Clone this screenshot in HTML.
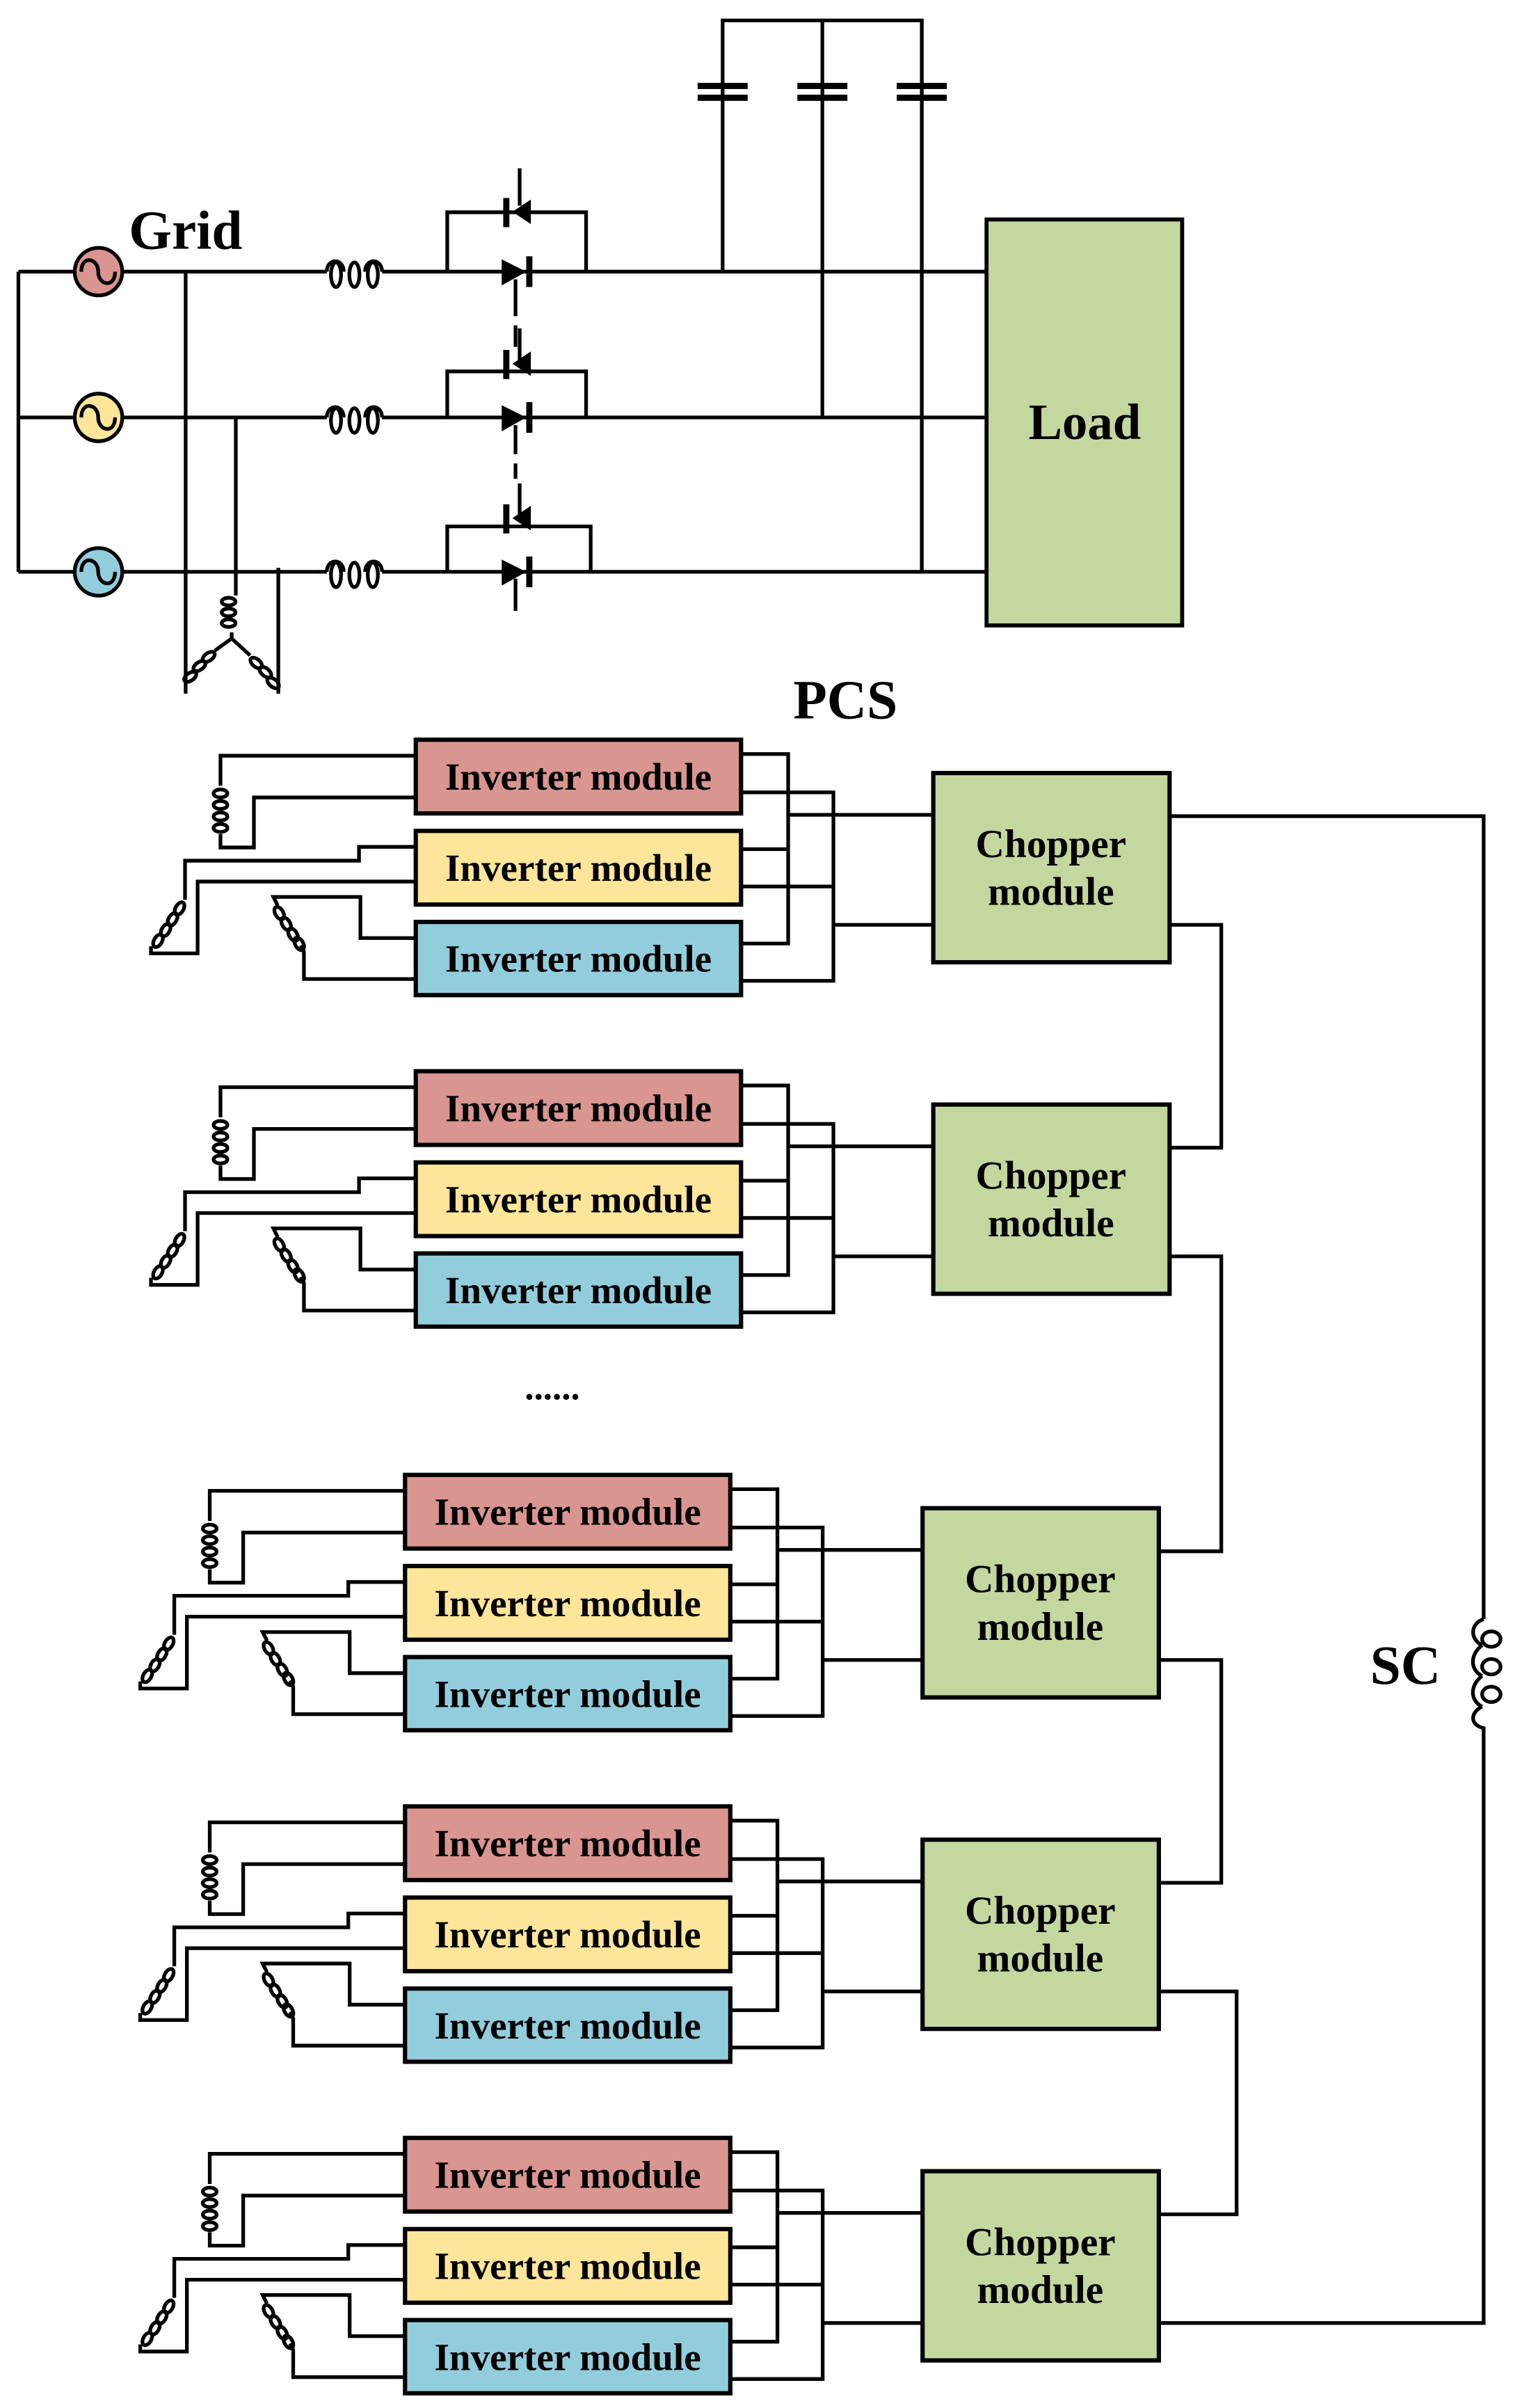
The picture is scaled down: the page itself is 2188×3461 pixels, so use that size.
<!DOCTYPE html>
<html><head><meta charset="utf-8"><style>
html,body{margin:0;padding:0;background:#fff}
svg{display:block}
text{font-family:"Liberation Serif",serif;font-weight:bold;fill:#000}
</style></head><body>
<svg width="2188" height="3461" viewBox="0 0 992 1569" preserveAspectRatio="none" xmlns="http://www.w3.org/2000/svg">
<g fill="none" stroke="#000" stroke-width="2.4">
<path d="M12,177 V372.6 M12,177 H48 M12,272 H48 M12,372.6 H48"/>
<path d="M80,177 H204 M80,272 H204 M80,372.6 H204"/>
<path d="M121,177 V452 M153.7,272 V384 M181.4,370 V452"/>
<g><path d="M204,177 H213 M249,177 H291"/><path d="M213,177 C213,168 224,168 224,177 M249,177 C249,168 238,168 238,177"/><ellipse cx="219" cy="179" rx="3.3" ry="8"/><ellipse cx="231" cy="179" rx="3.3" ry="8"/><ellipse cx="243" cy="179" rx="3.3" ry="8"/></g>
<g transform="translate(0,95)"><path d="M204,177 H213 M249,177 H291"/><path d="M213,177 C213,168 224,168 224,177 M249,177 C249,168 238,168 238,177"/><ellipse cx="219" cy="179" rx="3.3" ry="8"/><ellipse cx="231" cy="179" rx="3.3" ry="8"/><ellipse cx="243" cy="179" rx="3.3" ry="8"/></g>
<g transform="translate(0,195.6)"><path d="M204,177 H213 M249,177 H291"/><path d="M213,177 C213,168 224,168 224,177 M249,177 C249,168 238,168 238,177"/><ellipse cx="219" cy="179" rx="3.3" ry="8"/><ellipse cx="231" cy="179" rx="3.3" ry="8"/><ellipse cx="243" cy="179" rx="3.3" ry="8"/></g>
<path d="M291.5,177 V138.3 H382 V177 M291.5,272 V242 H382 V272 M291.5,372.6 V343 H385 V372.6"/>
<path d="M291,177 H643 M291,272 H643 M291,372.6 H643"/>
<path d="M471,177 V55 M471,63 V13.3 H600.8 V372.6 M536,13.3 V272"/>
<path d="M338.7,109.7 V134 M336,182 V206 M336,212 V226"/>
<path d="M338.7,214 V238 M336,277 V296 M336,302 V312"/>
<path d="M338.7,315 V339 M336,377 V398"/>
<path d="M153.7,384 V388 M151,412 V416 L140,424 M151,416 L163,427"/>
<ellipse cx="149" cy="392" rx="4.5" ry="2.5"/><ellipse cx="149" cy="399" rx="4.5" ry="2.5"/><ellipse cx="149" cy="406" rx="4.5" ry="2.5"/>
<ellipse cx="136" cy="428" rx="4.5" ry="2.5" transform="rotate(-35 136 428)"/><ellipse cx="130" cy="434" rx="4.5" ry="2.5" transform="rotate(-35 130 434)"/><ellipse cx="124" cy="441" rx="4.5" ry="2.5" transform="rotate(-35 124 441)"/>
<ellipse cx="167" cy="432" rx="4.5" ry="2.5" transform="rotate(40 167 432)"/><ellipse cx="173" cy="438" rx="4.5" ry="2.5" transform="rotate(40 173 438)"/><ellipse cx="178" cy="445" rx="4.5" ry="2.5" transform="rotate(40 178 445)"/>
<!-- right side chopper connections -->
<path d="M762.3,531.8 H967 V1513.6 H755.3"/>
<path d="M762.3,602.6 H796 V747.8 H762.3"/>
<path d="M762.3,818.6 H796 V1010.8 H755.3"/>
<path d="M755.3,1081.6 H796 V1226.8 H755.3"/>
<path d="M755.3,1297.6 H806 V1442.8 H755.3"/>
</g>
<!-- SC coil -->
<rect x="962" y="1055" width="10" height="70" fill="#fff"/>
<g fill="none" stroke="#000" stroke-width="2.4">
<path d="M967,1055 C958,1058 958,1068 966,1072 M966,1072 C958,1078 958,1088 966,1092 M966,1092 C958,1098 958,1108 966,1112 M966,1112 C958,1116 958,1124 967,1126"/>
<ellipse cx="972" cy="1068" rx="6" ry="5"/><ellipse cx="972" cy="1086" rx="6" ry="5"/><ellipse cx="972" cy="1104" rx="6" ry="5"/>
</g>
<text x="893" y="1097" font-size="36">SC</text>
<g fill="#000">
<rect x="454.7" y="54" width="32.6" height="4"/><rect x="454.7" y="61.7" width="32.6" height="4"/>
<rect x="519.7" y="54" width="32.6" height="4"/><rect x="519.7" y="61.7" width="32.6" height="4"/>
<rect x="584.5" y="54" width="32.6" height="4"/><rect x="584.5" y="61.7" width="32.6" height="4"/>
<g><polygon points="327,169 327,186 343,177"/><rect x="343" y="167" width="4" height="20"/><polygon points="346,130 346,146 334,138"/><rect x="328" y="129" width="4" height="19"/></g>
<g transform="translate(0,95)"><polygon points="327,169 327,186 343,177"/><rect x="343" y="167" width="4" height="20"/><polygon points="346,134 346,150 334,142"/><rect x="328" y="133" width="4" height="19"/></g>
<g transform="translate(0,195.6)"><polygon points="327,169 327,186 343,177"/><rect x="343" y="167" width="4" height="20"/><polygon points="346,134 346,150 334,142"/><rect x="328" y="133" width="4" height="19"/></g>
</g>
<g stroke="#000" stroke-width="2.4">
<circle cx="64.2" cy="177" r="15.5" fill="#d9958f"/>
<circle cx="64.2" cy="272" r="15.5" fill="#fde59a"/>
<circle cx="64.2" cy="372.6" r="15.5" fill="#92cddc"/>
<path fill="none" d="M53,177 C53,166 64,168 64,177 C64,186 75,188 75,177 M53,272 C53,261 64,263 64,272 C64,281 75,283 75,272 M53,372.6 C53,361.6 64,363.6 64,372.6 C64,381.6 75,383.6 75,372.6"/>
</g>
<rect x="643" y="143" width="127.5" height="264.5" fill="#c4d79f" stroke="#000" stroke-width="2.6"/>
<text x="707" y="286" font-size="33" text-anchor="middle">Load</text>
<text x="84" y="162" font-size="36">Grid</text>
<text x="517" y="468" font-size="36">PCS</text>
<text x="360" y="912" font-size="24" text-anchor="middle">......</text>

<g transform="translate(0,0)">
<g fill="none" stroke="#000" stroke-width="2.4">
<path d="M271,492.4 H143.7 V512 M143.7,543.5 V552.2 H165.5 V519.6 H271"/>
<path d="M271,551.8 H234 V560.8 H120.6 V586.2 M98.4,616.6 V621.2 H128.8 V574.4 H271"/>
<path d="M271,611.2 H234.9 V584.4 H178.2 L181,590 M196,616 L198.1,620.2 V637.9 H271"/>
<path d="M483,491.3 H513.7 V614.8 H483 M483,553.3 H513.7 M483,516.3 H543.2 V639.1 H483 M483,577.6 H543.2 M513.7,530.9 H608.3 M543.2,602.6 H608.3"/>
<ellipse cx="143.7" cy="517" rx="4.5" ry="2.6"/><ellipse cx="143.7" cy="524.5" rx="4.5" ry="2.6"/><ellipse cx="143.7" cy="532" rx="4.5" ry="2.6"/><ellipse cx="143.7" cy="539.5" rx="4.5" ry="2.6"/>
<ellipse cx="117" cy="592" rx="4.5" ry="2.6" transform="rotate(-60 117 592)"/><ellipse cx="112.5" cy="599" rx="4.5" ry="2.6" transform="rotate(-60 112.5 599)"/><ellipse cx="108" cy="606" rx="4.5" ry="2.6" transform="rotate(-60 108 606)"/><ellipse cx="103" cy="613" rx="4.5" ry="2.6" transform="rotate(-60 103 613)"/>
<ellipse cx="182" cy="595" rx="4.5" ry="2.6" transform="rotate(60 182 595)"/><ellipse cx="186.5" cy="602" rx="4.5" ry="2.6" transform="rotate(60 186.5 602)"/><ellipse cx="191" cy="609" rx="4.5" ry="2.6" transform="rotate(60 191 609)"/><ellipse cx="195" cy="615" rx="4.5" ry="2.6" transform="rotate(60 195 615)"/>
</g>
<g stroke="#000" stroke-width="2.8">
<rect x="271" y="482" width="212" height="48" fill="#d9958f"/>
<rect x="271" y="541.4" width="212" height="48" fill="#fde59a"/>
<rect x="271" y="600.7" width="212" height="47.7" fill="#92cddc"/>
<rect x="608.3" y="503.7" width="154" height="123.3" fill="#c4d79f"/>
</g>
<text x="377" y="514.5" font-size="25" text-anchor="middle">Inverter module</text>
<text x="377" y="574" font-size="25" text-anchor="middle">Inverter module</text>
<text x="377" y="633.2" font-size="25" text-anchor="middle">Inverter module</text>
<text x="685" y="558.5" font-size="26" text-anchor="middle">Chopper</text>
<text x="685" y="589.5" font-size="26" text-anchor="middle">module</text>
</g>

<g transform="translate(0,216)">
<g fill="none" stroke="#000" stroke-width="2.4">
<path d="M271,492.4 H143.7 V512 M143.7,543.5 V552.2 H165.5 V519.6 H271"/>
<path d="M271,551.8 H234 V560.8 H120.6 V586.2 M98.4,616.6 V621.2 H128.8 V574.4 H271"/>
<path d="M271,611.2 H234.9 V584.4 H178.2 L181,590 M196,616 L198.1,620.2 V637.9 H271"/>
<path d="M483,491.3 H513.7 V614.8 H483 M483,553.3 H513.7 M483,516.3 H543.2 V639.1 H483 M483,577.6 H543.2 M513.7,530.9 H608.3 M543.2,602.6 H608.3"/>
<ellipse cx="143.7" cy="517" rx="4.5" ry="2.6"/><ellipse cx="143.7" cy="524.5" rx="4.5" ry="2.6"/><ellipse cx="143.7" cy="532" rx="4.5" ry="2.6"/><ellipse cx="143.7" cy="539.5" rx="4.5" ry="2.6"/>
<ellipse cx="117" cy="592" rx="4.5" ry="2.6" transform="rotate(-60 117 592)"/><ellipse cx="112.5" cy="599" rx="4.5" ry="2.6" transform="rotate(-60 112.5 599)"/><ellipse cx="108" cy="606" rx="4.5" ry="2.6" transform="rotate(-60 108 606)"/><ellipse cx="103" cy="613" rx="4.5" ry="2.6" transform="rotate(-60 103 613)"/>
<ellipse cx="182" cy="595" rx="4.5" ry="2.6" transform="rotate(60 182 595)"/><ellipse cx="186.5" cy="602" rx="4.5" ry="2.6" transform="rotate(60 186.5 602)"/><ellipse cx="191" cy="609" rx="4.5" ry="2.6" transform="rotate(60 191 609)"/><ellipse cx="195" cy="615" rx="4.5" ry="2.6" transform="rotate(60 195 615)"/>
</g>
<g stroke="#000" stroke-width="2.8">
<rect x="271" y="482" width="212" height="48" fill="#d9958f"/>
<rect x="271" y="541.4" width="212" height="48" fill="#fde59a"/>
<rect x="271" y="600.7" width="212" height="47.7" fill="#92cddc"/>
<rect x="608.3" y="503.7" width="154" height="123.3" fill="#c4d79f"/>
</g>
<text x="377" y="514.5" font-size="25" text-anchor="middle">Inverter module</text>
<text x="377" y="574" font-size="25" text-anchor="middle">Inverter module</text>
<text x="377" y="633.2" font-size="25" text-anchor="middle">Inverter module</text>
<text x="685" y="558.5" font-size="26" text-anchor="middle">Chopper</text>
<text x="685" y="589.5" font-size="26" text-anchor="middle">module</text>
</g>

<g transform="translate(-7,479)">
<g fill="none" stroke="#000" stroke-width="2.4">
<path d="M271,492.4 H143.7 V512 M143.7,543.5 V552.2 H165.5 V519.6 H271"/>
<path d="M271,551.8 H234 V560.8 H120.6 V586.2 M98.4,616.6 V621.2 H128.8 V574.4 H271"/>
<path d="M271,611.2 H234.9 V584.4 H178.2 L181,590 M196,616 L198.1,620.2 V637.9 H271"/>
<path d="M483,491.3 H513.7 V614.8 H483 M483,553.3 H513.7 M483,516.3 H543.2 V639.1 H483 M483,577.6 H543.2 M513.7,530.9 H608.3 M543.2,602.6 H608.3"/>
<ellipse cx="143.7" cy="517" rx="4.5" ry="2.6"/><ellipse cx="143.7" cy="524.5" rx="4.5" ry="2.6"/><ellipse cx="143.7" cy="532" rx="4.5" ry="2.6"/><ellipse cx="143.7" cy="539.5" rx="4.5" ry="2.6"/>
<ellipse cx="117" cy="592" rx="4.5" ry="2.6" transform="rotate(-60 117 592)"/><ellipse cx="112.5" cy="599" rx="4.5" ry="2.6" transform="rotate(-60 112.5 599)"/><ellipse cx="108" cy="606" rx="4.5" ry="2.6" transform="rotate(-60 108 606)"/><ellipse cx="103" cy="613" rx="4.5" ry="2.6" transform="rotate(-60 103 613)"/>
<ellipse cx="182" cy="595" rx="4.5" ry="2.6" transform="rotate(60 182 595)"/><ellipse cx="186.5" cy="602" rx="4.5" ry="2.6" transform="rotate(60 186.5 602)"/><ellipse cx="191" cy="609" rx="4.5" ry="2.6" transform="rotate(60 191 609)"/><ellipse cx="195" cy="615" rx="4.5" ry="2.6" transform="rotate(60 195 615)"/>
</g>
<g stroke="#000" stroke-width="2.8">
<rect x="271" y="482" width="212" height="48" fill="#d9958f"/>
<rect x="271" y="541.4" width="212" height="48" fill="#fde59a"/>
<rect x="271" y="600.7" width="212" height="47.7" fill="#92cddc"/>
<rect x="608.3" y="503.7" width="154" height="123.3" fill="#c4d79f"/>
</g>
<text x="377" y="514.5" font-size="25" text-anchor="middle">Inverter module</text>
<text x="377" y="574" font-size="25" text-anchor="middle">Inverter module</text>
<text x="377" y="633.2" font-size="25" text-anchor="middle">Inverter module</text>
<text x="685" y="558.5" font-size="26" text-anchor="middle">Chopper</text>
<text x="685" y="589.5" font-size="26" text-anchor="middle">module</text>
</g>

<g transform="translate(-7,695)">
<g fill="none" stroke="#000" stroke-width="2.4">
<path d="M271,492.4 H143.7 V512 M143.7,543.5 V552.2 H165.5 V519.6 H271"/>
<path d="M271,551.8 H234 V560.8 H120.6 V586.2 M98.4,616.6 V621.2 H128.8 V574.4 H271"/>
<path d="M271,611.2 H234.9 V584.4 H178.2 L181,590 M196,616 L198.1,620.2 V637.9 H271"/>
<path d="M483,491.3 H513.7 V614.8 H483 M483,553.3 H513.7 M483,516.3 H543.2 V639.1 H483 M483,577.6 H543.2 M513.7,530.9 H608.3 M543.2,602.6 H608.3"/>
<ellipse cx="143.7" cy="517" rx="4.5" ry="2.6"/><ellipse cx="143.7" cy="524.5" rx="4.5" ry="2.6"/><ellipse cx="143.7" cy="532" rx="4.5" ry="2.6"/><ellipse cx="143.7" cy="539.5" rx="4.5" ry="2.6"/>
<ellipse cx="117" cy="592" rx="4.5" ry="2.6" transform="rotate(-60 117 592)"/><ellipse cx="112.5" cy="599" rx="4.5" ry="2.6" transform="rotate(-60 112.5 599)"/><ellipse cx="108" cy="606" rx="4.5" ry="2.6" transform="rotate(-60 108 606)"/><ellipse cx="103" cy="613" rx="4.5" ry="2.6" transform="rotate(-60 103 613)"/>
<ellipse cx="182" cy="595" rx="4.5" ry="2.6" transform="rotate(60 182 595)"/><ellipse cx="186.5" cy="602" rx="4.5" ry="2.6" transform="rotate(60 186.5 602)"/><ellipse cx="191" cy="609" rx="4.5" ry="2.6" transform="rotate(60 191 609)"/><ellipse cx="195" cy="615" rx="4.5" ry="2.6" transform="rotate(60 195 615)"/>
</g>
<g stroke="#000" stroke-width="2.8">
<rect x="271" y="482" width="212" height="48" fill="#d9958f"/>
<rect x="271" y="541.4" width="212" height="48" fill="#fde59a"/>
<rect x="271" y="600.7" width="212" height="47.7" fill="#92cddc"/>
<rect x="608.3" y="503.7" width="154" height="123.3" fill="#c4d79f"/>
</g>
<text x="377" y="514.5" font-size="25" text-anchor="middle">Inverter module</text>
<text x="377" y="574" font-size="25" text-anchor="middle">Inverter module</text>
<text x="377" y="633.2" font-size="25" text-anchor="middle">Inverter module</text>
<text x="685" y="558.5" font-size="26" text-anchor="middle">Chopper</text>
<text x="685" y="589.5" font-size="26" text-anchor="middle">module</text>
</g>

<g transform="translate(-7,911)">
<g fill="none" stroke="#000" stroke-width="2.4">
<path d="M271,492.4 H143.7 V512 M143.7,543.5 V552.2 H165.5 V519.6 H271"/>
<path d="M271,551.8 H234 V560.8 H120.6 V586.2 M98.4,616.6 V621.2 H128.8 V574.4 H271"/>
<path d="M271,611.2 H234.9 V584.4 H178.2 L181,590 M196,616 L198.1,620.2 V637.9 H271"/>
<path d="M483,491.3 H513.7 V614.8 H483 M483,553.3 H513.7 M483,516.3 H543.2 V639.1 H483 M483,577.6 H543.2 M513.7,530.9 H608.3 M543.2,602.6 H608.3"/>
<ellipse cx="143.7" cy="517" rx="4.5" ry="2.6"/><ellipse cx="143.7" cy="524.5" rx="4.5" ry="2.6"/><ellipse cx="143.7" cy="532" rx="4.5" ry="2.6"/><ellipse cx="143.7" cy="539.5" rx="4.5" ry="2.6"/>
<ellipse cx="117" cy="592" rx="4.5" ry="2.6" transform="rotate(-60 117 592)"/><ellipse cx="112.5" cy="599" rx="4.5" ry="2.6" transform="rotate(-60 112.5 599)"/><ellipse cx="108" cy="606" rx="4.5" ry="2.6" transform="rotate(-60 108 606)"/><ellipse cx="103" cy="613" rx="4.5" ry="2.6" transform="rotate(-60 103 613)"/>
<ellipse cx="182" cy="595" rx="4.5" ry="2.6" transform="rotate(60 182 595)"/><ellipse cx="186.5" cy="602" rx="4.5" ry="2.6" transform="rotate(60 186.5 602)"/><ellipse cx="191" cy="609" rx="4.5" ry="2.6" transform="rotate(60 191 609)"/><ellipse cx="195" cy="615" rx="4.5" ry="2.6" transform="rotate(60 195 615)"/>
</g>
<g stroke="#000" stroke-width="2.8">
<rect x="271" y="482" width="212" height="48" fill="#d9958f"/>
<rect x="271" y="541.4" width="212" height="48" fill="#fde59a"/>
<rect x="271" y="600.7" width="212" height="47.7" fill="#92cddc"/>
<rect x="608.3" y="503.7" width="154" height="123.3" fill="#c4d79f"/>
</g>
<text x="377" y="514.5" font-size="25" text-anchor="middle">Inverter module</text>
<text x="377" y="574" font-size="25" text-anchor="middle">Inverter module</text>
<text x="377" y="633.2" font-size="25" text-anchor="middle">Inverter module</text>
<text x="685" y="558.5" font-size="26" text-anchor="middle">Chopper</text>
<text x="685" y="589.5" font-size="26" text-anchor="middle">module</text>
</g>
</svg>
</body></html>
